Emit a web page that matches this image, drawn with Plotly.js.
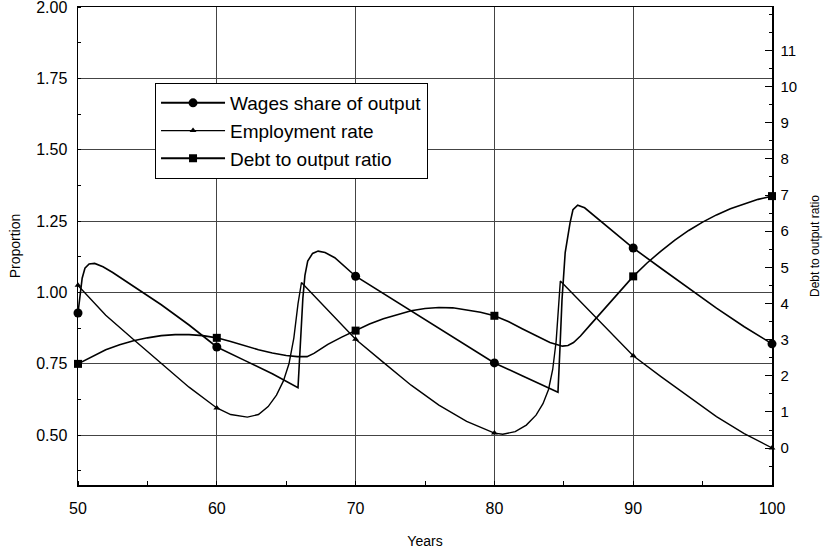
<!DOCTYPE html>
<html><head><meta charset="utf-8">
<script src="https://cdn.plot.ly/plotly-3.0.1.min.js"></script>
<style>html,body{margin:0;padding:0;background:#fff}#chart{width:834px;height:552px}</style>
</head><body><div id="chart"></div>
<script>
// Years at which markers are drawn
const markerYears = [50, 60, 70, 80, 90, 100];

// Wages share of output (left axis)
const wagesYears = [50, 50.15, 50.3, 50.5, 50.8, 51.2, 51.8, 52.5, 54, 56, 58, 60, 62, 64, 65.85, 65.95, 66.05, 66.2, 66.35, 66.55, 66.9, 67.3, 67.8, 68.5, 70, 72, 74, 76, 78, 80, 82, 84.58, 84.72, 84.87, 85.1, 85.45, 85.66, 86.0, 86.5, 87.3, 88.5, 90, 92, 94, 96, 98, 100];
const wagesShare = [0.928, 1.00, 1.05, 1.085, 1.10, 1.102, 1.09, 1.07, 1.022, 0.957, 0.886, 0.809, 0.762, 0.715, 0.666, 0.76, 0.86, 0.98, 1.06, 1.11, 1.137, 1.145, 1.14, 1.122, 1.057, 0.996, 0.935, 0.875, 0.814, 0.753, 0.708, 0.65, 0.80, 0.974, 1.14, 1.244, 1.29, 1.306, 1.297, 1.265, 1.215, 1.156, 1.085, 1.015, 0.945, 0.88, 0.82];

// Employment rate (left axis)
const employmentYears = [50, 52, 54, 56, 58, 60, 61, 62.2, 63, 63.7, 64.3, 64.8, 65.2, 65.55, 65.85, 66.1, 67, 68, 70, 72, 74, 76, 78, 80, 80.6, 81.5, 82.3, 83, 83.5, 83.9, 84.2, 84.45, 84.75, 86, 88, 90, 92, 94, 96, 98, 100];
const employmentRate = [1.025, 0.92, 0.835, 0.75, 0.668, 0.595, 0.572, 0.563, 0.572, 0.6, 0.64, 0.69, 0.75, 0.84, 0.96, 1.035, 0.989, 0.938, 0.836, 0.755, 0.675, 0.605, 0.548, 0.507, 0.503, 0.512, 0.535, 0.57, 0.61, 0.66, 0.73, 0.83, 1.04, 0.978, 0.877, 0.778, 0.705, 0.635, 0.565, 0.505, 0.455];

// Debt to output ratio (right axis)
const debtYears = [50, 51, 52, 53, 54, 55, 56, 57, 58, 59, 60, 61, 62, 63, 64, 65, 65.8, 66.5, 67, 67.5, 68, 69, 70, 71, 72, 73, 74, 75, 76, 77, 78, 79, 80, 81, 82, 83, 84, 84.9, 85.3, 85.7, 86.2, 87, 88, 89, 90, 91, 92, 93, 94, 95, 96, 97, 98, 99, 100];
const debtRatio = [2.33, 2.53, 2.72, 2.86, 2.97, 3.05, 3.11, 3.14, 3.14, 3.11, 3.05, 2.95, 2.83, 2.72, 2.63, 2.56, 2.53, 2.53, 2.62, 2.74, 2.87, 3.07, 3.25, 3.43, 3.58, 3.70, 3.80, 3.86, 3.89, 3.88, 3.83, 3.76, 3.66, 3.50, 3.30, 3.10, 2.92, 2.82, 2.84, 2.92, 3.10, 3.45, 3.88, 4.32, 4.75, 5.12, 5.45, 5.75, 6.02, 6.25, 6.45, 6.62, 6.76, 6.88, 6.97];

// Tick labels
const xTicks = [50, 60, 70, 80, 90, 100];
const leftTicks = [0.5, 0.75, 1.0, 1.25, 1.5, 1.75, 2.0];
const leftTickText = ['0.50', '0.75', '1.00', '1.25', '1.50', '1.75', '2.00'];
const rightTicks = [0, 1, 2, 3, 4, 5, 6, 7, 8, 9, 10, 11];

const seriesNames = ['Wages share of output', 'Employment rate', 'Debt to output ratio'];

function pick(xs, ys) {
  const ox = [], oy = [];
  xs.forEach((x, i) => { if (markerYears.includes(x)) { ox.push(x); oy.push(ys[i]); } });
  return { x: ox, y: oy };
}

const FONT = 'Liberation Sans, Arial, sans-serif';
const styles = [
  { sym: 'circle', size: 9, lw: 1.6 },
  { sym: 'triangle-up', size: 6, lw: 1.4 },
  { sym: 'square', size: 8, lw: 1.6 }
];
const sets = [
  { x: wagesYears, y: wagesShare, axis: 'y' },
  { x: employmentYears, y: employmentRate, axis: 'y' },
  { x: debtYears, y: debtRatio, axis: 'y2' }
];

const traces = [];
sets.forEach((s, i) => {
  traces.push({ type: 'scatter', mode: 'lines', x: s.x, y: s.y, yaxis: s.axis,
    line: { color: '#000', width: styles[i].lw }, showlegend: false, hoverinfo: 'skip' });
  const m = pick(s.x, s.y);
  traces.push({ type: 'scatter', mode: 'markers', x: m.x, y: m.y, yaxis: s.axis, cliponaxis: false,
    marker: { symbol: styles[i].sym, size: styles[i].size, color: '#000' }, showlegend: false });
});
sets.forEach((s, i) => {
  traces.push({ type: 'scatter', mode: 'lines+markers', x: [null], y: [null], yaxis: s.axis,
    name: seriesNames[i], line: { color: '#000', width: i === 1 ? 1.2 : 2 },
    marker: { symbol: styles[i].sym, size: styles[i].size, color: '#000' } });
});

const layout = {
  width: 834, height: 552,
  margin: { l: 78, r: 62, t: 7, b: 67, pad: 0 },
  paper_bgcolor: '#fff', plot_bgcolor: '#fff',
  font: { family: FONT, color: '#000', size: 15 },
  showlegend: true,
  legend: { x: 0.111, y: 0.841, xanchor: 'left', yanchor: 'top', bgcolor: '#fff',
    bordercolor: '#000', borderwidth: 1, font: { family: FONT, size: 19, color: '#000' },
    itemwidth: 64, tracegroupgap: 0 },
  xaxis: {
    range: [50, 100], tickvals: xTicks, ticktext: xTicks.map(String),
    showgrid: true, gridcolor: '#444', gridwidth: 1,
    showline: true, linecolor: '#000', linewidth: 1.5, mirror: true,
    ticks: '', ticklabelstandoff: 8, zeroline: false,
    minor: { dtick: 5, tick0: 50, ticks: 'inside', ticklen: 4, tickcolor: '#000', showgrid: false },
    tickfont: { size: 16 },
    title: { text: 'Years', font: { size: 14 }, standoff: 20 }
  },
  yaxis: {
    range: [0.325, 2.001], tickvals: leftTicks, ticktext: leftTickText,
    showgrid: true, gridcolor: '#444', gridwidth: 1,
    showline: true, linecolor: '#000', linewidth: 1.5,
    ticks: '', ticklabelstandoff: 6, ticklabeloverflow: 'allow', zeroline: false,
    minor: { dtick: 0.125, tick0: 0, ticks: 'inside', ticklen: 3, tickcolor: '#000', showgrid: false },
    tickfont: { size: 16 },
    title: { text: 'Proportion', font: { size: 14 }, standoff: 12 }
  },
  yaxis2: {
    overlaying: 'y', side: 'right', range: [-1.02, 12.2], tickvals: rightTicks,
    showgrid: false, showline: true, linecolor: '#000', linewidth: 1.5,
    ticks: 'inside', ticklen: 7, tickcolor: '#000', ticklabelstandoff: 4, zeroline: false,
    minor: { dtick: 0.5, tick0: 0, ticks: 'inside', ticklen: 3, tickcolor: '#000', showgrid: false },
    tickfont: { size: 15 },
    title: { text: 'Debt to output ratio', font: { size: 12 }, standoff: 14 }
  }
};

Plotly.newPlot('chart', traces, layout, { staticPlot: true, displayModeBar: false });
</script>
</body></html>
